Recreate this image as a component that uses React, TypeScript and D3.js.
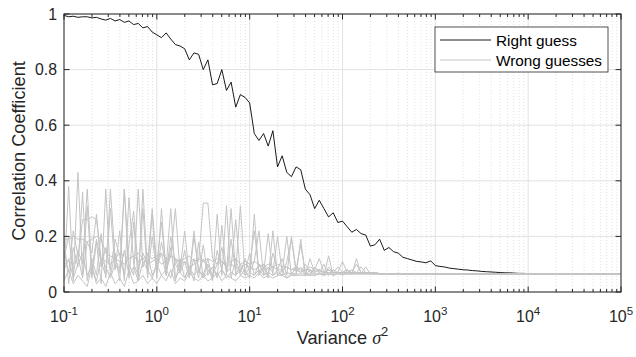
import * as d3 from "d3";
import React from "react";

// sample grid: 20 points per decade, 10^-1 .. 10^5
const sigma2 = d3.range(121).map((i) => Math.pow(10, -1 + i / 20));

const yTicks = [0, 0.2, 0.4, 0.6, 0.8, 1];
const yTickLabels = ["0", "0.2", "0.4", "0.6", "0.8", "1"];
const xDecades = [-1, 0, 1, 2, 3, 4, 5];

const legendLabels = ["Right guess", "Wrong guesses"];

// correlation of the right key guess
const rightGuess = [
  0.995, 0.99, 0.992, 0.988, 0.99, 0.99, 0.986, 0.988, 0.982, 0.978,
  0.984, 0.975, 0.98, 0.97, 0.975, 0.962, 0.966, 0.95, 0.955, 0.935,
  0.925, 0.915, 0.932, 0.91, 0.89, 0.885, 0.875, 0.835, 0.86, 0.855,
  0.8, 0.835, 0.745, 0.75, 0.8, 0.725, 0.755, 0.665, 0.71, 0.7,
  0.68, 0.57, 0.545, 0.57, 0.525, 0.58, 0.45, 0.49, 0.43, 0.415,
  0.45, 0.44, 0.37, 0.35, 0.3, 0.33, 0.3, 0.27, 0.285, 0.25,
  0.255, 0.235, 0.215, 0.225, 0.21, 0.205, 0.165, 0.17, 0.19, 0.15,
  0.16, 0.145, 0.14, 0.125, 0.12, 0.115, 0.11, 0.108, 0.105, 0.112,
  0.095, 0.092, 0.09, 0.086, 0.084, 0.082, 0.08, 0.079, 0.077, 0.076,
  0.074, 0.073, 0.072, 0.071, 0.07, 0.069, 0.069, 0.068, 0.067, 0.067,
  0.066, 0.066, 0.066, 0.066, 0.066, 0.065, 0.066, 0.065, 0.065, 0.066,
  0.065, 0.065, 0.065, 0.065, 0.065, 0.065, 0.065, 0.065, 0.065, 0.065,
  0.065,
];

// correlations of the wrong key guesses
const wrong1 = [
  0.19, 0.19, 0.2, 0.19, 0.19, 0.18, 0.19, 0.2, 0.19, 0.14,
  0.13, 0.12, 0.14, 0.13, 0.12, 0.13, 0.14, 0.12, 0.13, 0.12,
  0.13, 0.14, 0.12, 0.13, 0.12, 0.11, 0.12, 0.13, 0.11, 0.12,
  0.11, 0.12, 0.11, 0.12, 0.11, 0.1, 0.11, 0.12, 0.1, 0.11,
  0.1, 0.11, 0.1, 0.09, 0.1, 0.09, 0.1, 0.09, 0.09, 0.08,
  0.09, 0.08, 0.08, 0.09, 0.08, 0.08, 0.07, 0.08, 0.07, 0.07,
  0.07, 0.07, 0.07, 0.07, 0.07, 0.07, 0.07, 0.07, 0.066, 0.066,
  0.066, 0.066, 0.065, 0.066, 0.065, 0.065, 0.066, 0.065, 0.065, 0.065,
  0.065, 0.065, 0.065, 0.065, 0.065, 0.065, 0.065, 0.065, 0.065, 0.065,
  0.065, 0.065, 0.065, 0.065, 0.065, 0.065, 0.065, 0.065, 0.065, 0.065,
  0.065, 0.065, 0.065, 0.065, 0.065, 0.065, 0.065, 0.065, 0.065, 0.065,
  0.065, 0.065, 0.065, 0.065, 0.065, 0.065, 0.065, 0.065, 0.065, 0.065,
  0.065,
];

const wrong2 = [
  0.1, 0.11, 0.1, 0.12, 0.26, 0.26, 0.27, 0.26, 0.12, 0.11,
  0.1, 0.12, 0.11, 0.1, 0.12, 0.13, 0.11, 0.12, 0.1, 0.11,
  0.12, 0.1, 0.11, 0.13, 0.12, 0.1, 0.11, 0.09, 0.1, 0.11,
  0.32, 0.32, 0.12, 0.1, 0.11, 0.09, 0.1, 0.09, 0.08, 0.1,
  0.09, 0.08, 0.09, 0.1, 0.08, 0.09, 0.08, 0.08, 0.09, 0.08,
  0.08, 0.07, 0.08, 0.08, 0.07, 0.08, 0.07, 0.07, 0.07, 0.07,
  0.07, 0.068, 0.07, 0.068, 0.067, 0.068, 0.066, 0.067, 0.066, 0.066,
  0.066, 0.065, 0.066, 0.065, 0.065, 0.066, 0.065, 0.065, 0.065, 0.065,
  0.065, 0.065, 0.065, 0.065, 0.065, 0.065, 0.065, 0.065, 0.065, 0.065,
  0.065, 0.065, 0.065, 0.065, 0.065, 0.065, 0.065, 0.065, 0.065, 0.065,
  0.065, 0.065, 0.065, 0.065, 0.065, 0.065, 0.065, 0.065, 0.065, 0.065,
  0.065, 0.065, 0.065, 0.065, 0.065, 0.065, 0.065, 0.065, 0.065, 0.065,
  0.065,
];

const wrong3 = [
  0.05, 0.38, 0.04, 0.43, 0.06, 0.31, 0.05, 0.18, 0.03, 0.37,
  0.06, 0.14, 0.04, 0.37, 0.05, 0.25, 0.04, 0.37, 0.07, 0.28,
  0.05, 0.3, 0.06, 0.16, 0.04, 0.12, 0.05, 0.09, 0.04, 0.18,
  0.05, 0.1, 0.04, 0.28, 0.06, 0.31, 0.05, 0.12, 0.06, 0.08,
  0.05, 0.28, 0.06, 0.09, 0.05, 0.22, 0.06, 0.08, 0.05, 0.07,
  0.06, 0.19, 0.06, 0.08, 0.06, 0.07, 0.06, 0.13, 0.06, 0.07,
  0.06, 0.07, 0.065, 0.12, 0.065, 0.07, 0.065, 0.07, 0.065, 0.065,
  0.066, 0.065, 0.068, 0.065, 0.065, 0.066, 0.065, 0.065, 0.065, 0.065,
  0.065, 0.065, 0.065, 0.065, 0.065, 0.065, 0.065, 0.065, 0.065, 0.065,
  0.065, 0.065, 0.065, 0.065, 0.065, 0.065, 0.065, 0.065, 0.065, 0.065,
  0.065, 0.065, 0.065, 0.065, 0.065, 0.065, 0.065, 0.065, 0.065, 0.065,
  0.065, 0.065, 0.065, 0.065, 0.065, 0.065, 0.065, 0.065, 0.065, 0.065,
  0.065,
];

const wrong4 = [
  0.2, 0.03, 0.16, 0.09, 0.36, 0.04, 0.12, 0.06, 0.21, 0.05,
  0.3, 0.08, 0.22, 0.04, 0.34, 0.1, 0.06, 0.3, 0.05, 0.2,
  0.07, 0.18, 0.09, 0.3, 0.05, 0.08, 0.22, 0.06, 0.12, 0.05,
  0.17, 0.06, 0.09, 0.05, 0.24, 0.07, 0.3, 0.06, 0.1, 0.07,
  0.14, 0.06, 0.1, 0.07, 0.21, 0.06, 0.08, 0.12, 0.06, 0.2,
  0.07, 0.09, 0.06, 0.12, 0.07, 0.08, 0.06, 0.09, 0.07, 0.07,
  0.11, 0.07, 0.08, 0.07, 0.09, 0.07, 0.07, 0.066, 0.066, 0.066,
  0.065, 0.066, 0.065, 0.065, 0.066, 0.065, 0.065, 0.065, 0.065, 0.065,
  0.065, 0.065, 0.065, 0.065, 0.065, 0.065, 0.065, 0.065, 0.065, 0.065,
  0.065, 0.065, 0.065, 0.065, 0.065, 0.065, 0.065, 0.065, 0.065, 0.065,
  0.065, 0.065, 0.065, 0.065, 0.065, 0.065, 0.065, 0.065, 0.065, 0.065,
  0.065, 0.065, 0.065, 0.065, 0.065, 0.065, 0.065, 0.065, 0.065, 0.065,
  0.065,
];

const wrong5 = [
  0.04, 0.08, 0.03, 0.06, 0.04, 0.02, 0.09, 0.03, 0.05, 0.02,
  0.07, 0.03, 0.05, 0.02, 0.08, 0.03, 0.04, 0.06, 0.03, 0.05,
  0.03, 0.06, 0.04, 0.08, 0.03, 0.05, 0.04, 0.07, 0.05, 0.04,
  0.06, 0.04, 0.05, 0.07, 0.04, 0.06, 0.05, 0.04, 0.06, 0.05,
  0.06, 0.05, 0.07, 0.05, 0.06, 0.05, 0.06, 0.06, 0.05, 0.06,
  0.06, 0.06, 0.06, 0.06, 0.06, 0.065, 0.06, 0.065, 0.06, 0.065,
  0.065, 0.065, 0.065, 0.065, 0.065, 0.065, 0.065, 0.065, 0.065, 0.065,
  0.065, 0.065, 0.065, 0.065, 0.065, 0.065, 0.065, 0.065, 0.065, 0.065,
  0.065, 0.065, 0.065, 0.065, 0.065, 0.065, 0.065, 0.065, 0.065, 0.065,
  0.065, 0.065, 0.065, 0.065, 0.065, 0.065, 0.065, 0.065, 0.065, 0.065,
  0.065, 0.065, 0.065, 0.065, 0.065, 0.065, 0.065, 0.065, 0.065, 0.065,
  0.065, 0.065, 0.065, 0.065, 0.065, 0.065, 0.065, 0.065, 0.065, 0.065,
  0.065,
];

const wrong6 = [
  0.12, 0.2, 0.07, 0.15, 0.1, 0.37, 0.08, 0.19, 0.11, 0.06,
  0.37, 0.12, 0.08, 0.37, 0.1, 0.06, 0.37, 0.09, 0.14, 0.06,
  0.1, 0.25, 0.08, 0.13, 0.3, 0.07, 0.11, 0.05, 0.2, 0.08,
  0.06, 0.12, 0.05, 0.15, 0.08, 0.06, 0.19, 0.07, 0.31, 0.06,
  0.09, 0.22, 0.07, 0.1, 0.06, 0.14, 0.08, 0.06, 0.11, 0.19,
  0.08, 0.17, 0.07, 0.06, 0.09, 0.07, 0.1, 0.06, 0.08, 0.07,
  0.07, 0.08, 0.065, 0.07, 0.065, 0.09, 0.065, 0.066, 0.065, 0.066,
  0.065, 0.065, 0.066, 0.065, 0.065, 0.065, 0.065, 0.065, 0.065, 0.065,
  0.065, 0.065, 0.065, 0.065, 0.065, 0.065, 0.065, 0.065, 0.065, 0.065,
  0.065, 0.065, 0.065, 0.065, 0.065, 0.065, 0.065, 0.065, 0.065, 0.065,
  0.065, 0.065, 0.065, 0.065, 0.065, 0.065, 0.065, 0.065, 0.065, 0.065,
  0.065, 0.065, 0.065, 0.065, 0.065, 0.065, 0.065, 0.065, 0.065, 0.065,
  0.065,
];

const wrong7 = [
  0.15, 0.07, 0.22, 0.13, 0.05, 0.18, 0.14, 0.28, 0.09, 0.16,
  0.08, 0.19, 0.13, 0.06, 0.17, 0.29, 0.08, 0.14, 0.1, 0.3,
  0.09, 0.14, 0.06, 0.2, 0.1, 0.07, 0.15, 0.06, 0.22, 0.07,
  0.12, 0.08, 0.06, 0.1, 0.16, 0.07, 0.09, 0.26, 0.07, 0.12,
  0.07, 0.11, 0.22, 0.06, 0.09, 0.07, 0.2, 0.07, 0.2, 0.06,
  0.09, 0.07, 0.1, 0.07, 0.08, 0.12, 0.07, 0.08, 0.07, 0.09,
  0.07, 0.08, 0.07, 0.1, 0.07, 0.07, 0.066, 0.07, 0.066, 0.066,
  0.065, 0.066, 0.065, 0.065, 0.065, 0.065, 0.065, 0.065, 0.065, 0.065,
  0.065, 0.065, 0.065, 0.065, 0.065, 0.065, 0.065, 0.065, 0.065, 0.065,
  0.065, 0.065, 0.065, 0.065, 0.065, 0.065, 0.065, 0.065, 0.065, 0.065,
  0.065, 0.065, 0.065, 0.065, 0.065, 0.065, 0.065, 0.065, 0.065, 0.065,
  0.065, 0.065, 0.065, 0.065, 0.065, 0.065, 0.065, 0.065, 0.065, 0.065,
  0.065,
];

const wrong8 = [
  0.08, 0.12, 0.05, 0.1, 0.14, 0.06, 0.09, 0.04, 0.12, 0.09,
  0.05, 0.1, 0.07, 0.15, 0.06, 0.09, 0.04, 0.11, 0.08, 0.05,
  0.1, 0.06, 0.08, 0.05, 0.12, 0.07, 0.05, 0.09, 0.06, 0.08,
  0.05, 0.07, 0.09, 0.06, 0.08, 0.05, 0.07, 0.06, 0.08, 0.06,
  0.07, 0.06, 0.08, 0.06, 0.07, 0.06, 0.07, 0.06, 0.07, 0.065,
  0.065, 0.065, 0.065, 0.065, 0.065, 0.065, 0.065, 0.065, 0.065, 0.065,
  0.065, 0.065, 0.065, 0.065, 0.065, 0.065, 0.065, 0.065, 0.065, 0.065,
  0.065, 0.065, 0.065, 0.065, 0.065, 0.065, 0.065, 0.065, 0.065, 0.065,
  0.065, 0.065, 0.065, 0.065, 0.065, 0.065, 0.065, 0.065, 0.065, 0.065,
  0.065, 0.065, 0.065, 0.065, 0.065, 0.065, 0.065, 0.065, 0.065, 0.065,
  0.065, 0.065, 0.065, 0.065, 0.065, 0.065, 0.065, 0.065, 0.065, 0.065,
  0.065, 0.065, 0.065, 0.065, 0.065, 0.065, 0.065, 0.065, 0.065, 0.065,
  0.065,
];

const wrongGuesses = [wrong1, wrong2, wrong3, wrong4, wrong5, wrong6, wrong7, wrong8];

const width = 636;
const height = 357;
const margin = { top: 14, right: 15, bottom: 65, left: 64 };
const axisColor = "#262626";
const grayLine = "#c4c4c4";
const font = "'Liberation Sans', Arial, Helvetica, sans-serif";

export default function App() {
  const x = d3
    .scaleLog()
    .domain([1e-1, 1e5])
    .range([margin.left, width - margin.right]);
  const y = d3
    .scaleLinear()
    .domain([0, 1])
    .range([height - margin.bottom, margin.top]);

  const x0 = x.range()[0];
  const x1 = x.range()[1];
  const y0 = y.range()[0];
  const y1 = y.range()[1];

  const line = d3
    .line<number>()
    .x((d, i) => x(sigma2[i]))
    .y((d) => y(d));

  // minor log ticks 2..9 x 10^k
  const minor: number[] = [];
  for (let k = -1; k < 5; k++) {
    for (let m = 2; m <= 9; m++) minor.push(m * Math.pow(10, k));
  }
  const majors = xDecades.map((e) => Math.pow(10, e));

  const lx = 435;
  const ly = 27;

  return (
    <svg width={width} height={height} style={{ position: "absolute", left: 0, top: 0, fontFamily: font }}>
      <rect x={0} y={0} width={width} height={height} fill="#fff" />
      {/* grid */}
      {minor.map((v) => (
        <line key={"mg" + v} x1={x(v)} x2={x(v)} y1={y0} y2={y1} stroke="#d6d6d6" strokeWidth={0.7} strokeDasharray="1,2" />
      ))}
      {majors.map((v) => (
        <line key={"Mg" + v} x1={x(v)} x2={x(v)} y1={y0} y2={y1} stroke="#e2e2e2" strokeWidth={1} />
      ))}
      {yTicks.map((v) => (
        <line key={"yg" + v} x1={x0} x2={x1} y1={y(v)} y2={y(v)} stroke="#e2e2e2" strokeWidth={1} />
      ))}

      {/* data */}
      <path d={line(rightGuess) || ""} fill="none" stroke="#000" strokeWidth={0.9} />
      {wrongGuesses.map((s, i) => (
        <path key={"w" + i} d={line(s) || ""} fill="none" stroke={grayLine} strokeWidth={1} />
      ))}

      {/* axes box and ticks */}
      <rect x={x0} y={y1} width={x1 - x0} height={y0 - y1} fill="none" stroke={axisColor} strokeWidth={1} />
      {minor.map((v) => (
        <g key={"mt" + v}>
          <line x1={x(v)} x2={x(v)} y1={y0} y2={y0 - 3} stroke={axisColor} />
          <line x1={x(v)} x2={x(v)} y1={y1} y2={y1 + 3} stroke={axisColor} />
        </g>
      ))}
      {majors.map((v) => (
        <g key={"Mt" + v}>
          <line x1={x(v)} x2={x(v)} y1={y0} y2={y0 - 5.5} stroke={axisColor} />
          <line x1={x(v)} x2={x(v)} y1={y1} y2={y1 + 5.5} stroke={axisColor} />
        </g>
      ))}
      {yTicks.map((v) => (
        <g key={"yt" + v}>
          <line x1={x0} x2={x0 + 5.5} y1={y(v)} y2={y(v)} stroke={axisColor} />
          <line x1={x1} x2={x1 - 5.5} y1={y(v)} y2={y(v)} stroke={axisColor} />
        </g>
      ))}

      {/* tick labels */}
      {yTicks.map((v, i) => (
        <text key={"yl" + v} x={x0 - 7} y={y(v) + 5.5} textAnchor="end" fontSize={15.8} fill={axisColor}>
          {yTickLabels[i]}
        </text>
      ))}
      {xDecades.map((e) => (
        <text key={"xl" + e} x={x(Math.pow(10, e))} y={y0 + 30} textAnchor="middle" fontSize={16} fill={axisColor}>
          10
          <tspan dy={-7} fontSize={11.5}>
            {String(e)}
          </tspan>
        </text>
      ))}

      {/* axis labels */}
      <text x={(x0 + x1) / 2} y={344} textAnchor="middle" fontSize={18.2} fill={axisColor}>
        Variance <tspan fontStyle="italic" fontFamily="'Liberation Serif', 'Times New Roman', serif">σ</tspan>
        <tspan dy={-8} fontSize={13}>2</tspan>
      </text>
      <text
        transform={`translate(24.5,${(y0 + y1) / 2 - 2}) rotate(-90)`}
        textAnchor="middle"
        fontSize={18.2}
        fill={axisColor}
      >
        Correlation Coefficient
      </text>

      {/* legend */}
      <rect x={lx} y={ly} width={173} height={45} fill="#fff" stroke={axisColor} strokeWidth={0.8} />
      <line x1={lx + 5} x2={lx + 56} y1={ly + 13} y2={ly + 13} stroke="#000" strokeWidth={0.9} />
      <line x1={lx + 5} x2={lx + 56} y1={ly + 33} y2={ly + 33} stroke={grayLine} strokeWidth={1} />
      <text x={lx + 61} y={ly + 18.5} fontSize={15.3} fill="#000">
        {legendLabels[0]}
      </text>
      <text x={lx + 61} y={ly + 38.5} fontSize={15.3} fill="#000">
        {legendLabels[1]}
      </text>
    </svg>
  );
}
